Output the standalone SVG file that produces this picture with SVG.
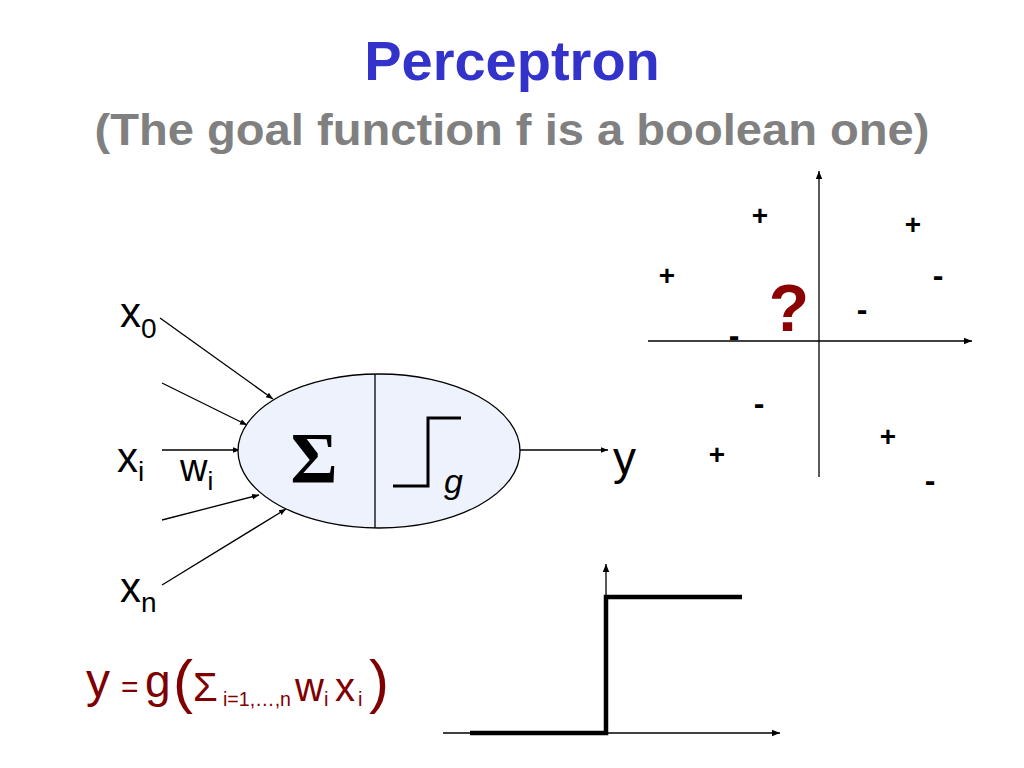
<svg xmlns="http://www.w3.org/2000/svg" width="1024" height="768" viewBox="0 0 1024 768">
<defs>
<style>
.t{font-family:"Liberation Sans","DejaVu Sans",sans-serif}
.lbl{font-family:"Liberation Sans","DejaVu Sans",sans-serif;fill:#000}
.pm{font-family:"Liberation Sans","DejaVu Sans",sans-serif;font-weight:bold;fill:#000;text-anchor:middle}
.ln{stroke:#000;stroke-width:1.3;fill:none}
.f{font-family:"Liberation Sans","DejaVu Sans",sans-serif;fill:#7f0000}
</style>
<marker id="ah" viewBox="0 0 10 10" refX="10" refY="5" markerWidth="7" markerHeight="7" orient="auto" markerUnits="userSpaceOnUse">
<path d="M0,1 L10,5 L0,9 Z" fill="#000"/>
</marker>
<marker id="ah2" viewBox="0 0 10 10" refX="10" refY="5" markerWidth="8" markerHeight="8" orient="auto" markerUnits="userSpaceOnUse">
<path d="M0,1 L10,5 L0,9 Z" fill="#000"/>
</marker>
</defs>
<rect width="1024" height="768" fill="#fff"/>
<g id="title">
<text class="t" x="512" y="80" font-size="56" font-weight="bold" fill="#3333cc" text-anchor="middle">Perceptron</text>
<text class="t" x="512" y="145" font-size="44" font-weight="bold" fill="#808080" text-anchor="middle" textLength="835" lengthAdjust="spacingAndGlyphs">(The goal function f is a boolean one)</text>
</g>
<g id="connectors">
<line class="ln" x1="160" y1="318" x2="273" y2="399" marker-end="url(#ah)"/>
<line class="ln" x1="162" y1="383" x2="247" y2="425" marker-end="url(#ah)"/>
<line class="ln" x1="162" y1="450" x2="240" y2="450" marker-end="url(#ah)"/>
<line class="ln" x1="162" y1="520" x2="259" y2="495" marker-end="url(#ah)"/>
<line class="ln" x1="162" y1="585" x2="286" y2="509" marker-end="url(#ah)"/>
<line class="ln" x1="520" y1="450" x2="608" y2="450" marker-end="url(#ah)"/>
</g>
<g id="neuron">
<ellipse cx="379" cy="451" rx="141" ry="77" fill="#eef2fc" stroke="#000" stroke-width="1.3"/>
<line x1="375" y1="374" x2="375" y2="528" stroke="#000" stroke-width="1.3"/>
<text x="314" y="482" font-family="Liberation Serif,DejaVu Serif,serif" font-weight="bold" font-size="72" text-anchor="middle" fill="#000">Σ</text>
<path d="M393,486 L428,486 L428,418 L461,418" fill="none" stroke="#000" stroke-width="3"/>
<text class="lbl" x="444" y="493" font-size="34" font-style="italic">g</text>
</g>
<g id="inputs">
<text class="lbl" x="120" y="327" font-size="42">x<tspan font-size="28" dy="11">0</tspan></text>
<text class="lbl" x="117" y="472" font-size="42">x<tspan font-size="28" dy="9">i</tspan></text>
<text class="lbl" x="180" y="481" font-size="38">w<tspan font-size="26" dy="9">i</tspan></text>
<text class="lbl" x="120" y="602" font-size="42">x<tspan font-size="28" dy="10">n</tspan></text>
</g>
<g id="output">
<text class="lbl" x="613" y="474" font-size="46">y</text>
</g>
<g id="scatter">
<line class="ln" x1="648" y1="341" x2="972" y2="341" marker-end="url(#ah2)"/>
<line class="ln" x1="819" y1="477" x2="819" y2="171" marker-end="url(#ah2)"/>
<text class="pm" x="760" y="225" font-size="28">+</text>
<text class="pm" x="913" y="234" font-size="28">+</text>
<text class="pm" x="667" y="285" font-size="28">+</text>
<text class="pm" x="888" y="446" font-size="28">+</text>
<text class="pm" x="717" y="464" font-size="28">+</text>
<text class="pm" x="938" y="286" font-size="32">-</text>
<text class="pm" x="862" y="320" font-size="32">-</text>
<text class="pm" x="734" y="346" font-size="32">-</text>
<text class="pm" x="759" y="414" font-size="32">-</text>
<text class="pm" x="930" y="491" font-size="32">-</text>
<text x="789" y="331" font-family="Liberation Sans,DejaVu Sans,sans-serif" font-weight="bold" font-size="66" fill="#8b0000" text-anchor="middle">?</text>
</g>
<g id="formula">
<text class="f" x="86" y="697" font-size="48">y</text>
<text class="f" x="121" y="697" font-size="30">=</text>
<text class="f" x="145" y="697" font-size="46">g</text>
<text class="f" x="173" y="702" font-size="60">(</text>
<text class="f" x="193" y="701" font-size="40">Σ</text>
<text class="f" x="223" y="706" font-size="20" textLength="68" lengthAdjust="spacingAndGlyphs">i=1,…,n</text>
<text class="f" x="295" y="701" font-size="40">w</text>
<text class="f" x="324" y="706" font-size="20">i</text>
<text class="f" x="335" y="701" font-size="40">x</text>
<text class="f" x="358" y="706" font-size="20">i</text>
<text class="f" x="369" y="702" font-size="60">)</text>
</g>
<g id="step">
<line class="ln" x1="443" y1="733" x2="780" y2="733" marker-end="url(#ah2)"/>
<line class="ln" x1="606" y1="733" x2="606" y2="564" marker-end="url(#ah2)"/>
<path d="M470,733 L606,733 L606,597 L742,597" fill="none" stroke="#000" stroke-width="4.5"/>
</g>
</svg>
